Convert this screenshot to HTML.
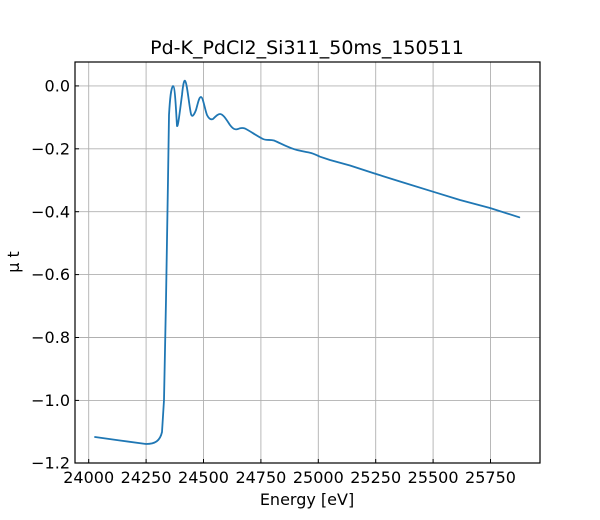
<!DOCTYPE html>
<html><head><style>body{margin:0;background:#fff}svg{display:block}text{font-family:"DejaVu Sans","Liberation Sans",sans-serif;fill:#000}</style></head><body>
<svg width="600" height="520" viewBox="0 0 600 520">
<g stroke="#b0b0b0" stroke-width="0.9">
<line x1="88.7" y1="62" x2="88.7" y2="463"/><line x1="146.1" y1="62" x2="146.1" y2="463"/><line x1="203.5" y1="62" x2="203.5" y2="463"/><line x1="260.9" y1="62" x2="260.9" y2="463"/><line x1="318.3" y1="62" x2="318.3" y2="463"/><line x1="375.7" y1="62" x2="375.7" y2="463"/><line x1="433.1" y1="62" x2="433.1" y2="463"/><line x1="490.5" y1="62" x2="490.5" y2="463"/>
<line x1="75" y1="85.9" x2="540" y2="85.9"/><line x1="75" y1="148.8" x2="540" y2="148.8"/><line x1="75" y1="211.7" x2="540" y2="211.7"/><line x1="75" y1="274.6" x2="540" y2="274.6"/><line x1="75" y1="337.5" x2="540" y2="337.5"/><line x1="75" y1="400.4" x2="540" y2="400.4"/>
</g>
<path fill="none" stroke="#1f77b4" stroke-width="1.8" stroke-linejoin="round" stroke-linecap="round" d="M95,437 L120,440.5 L146,444 C155,444 160,441 162,432 L164,400 L166,300 L168,180 L169,115 C170,98 171,88 173,86 C175,86 176,110 177,126 C178,128 180,110 182,95 C183,85 184,80 185,80.7 C187,82 189,105 191,114 C192,118 194,115 196,110 C198,103 199,97 201,97 C203,97 205,110 207,115 C209,119 211,120 213,119 C216,116 218,114 220,114 C223,114 226,119 230,125 C233,129 235,130 238,129 C240,128 242,127.5 245,128.5 C250,131 257,136 263,139 C266,140.5 270,139.5 274,140.5 C280,143 285,146 291.7,148.3 C297,150.5 304,151.5 310,152.7 C314,153.5 317,155.5 320,156.7 L330,160 L350,165.5 L373,173 L400,181.5 L433,191.7 L460,200 L490,208 L519.3,217.3"/>
<rect x="75" y="62" width="465" height="401" fill="none" stroke="#000" stroke-width="1.2"/>
<g stroke="#000" stroke-width="1">
<line x1="88.7" y1="463" x2="88.7" y2="459"/><line x1="146.1" y1="463" x2="146.1" y2="459"/><line x1="203.5" y1="463" x2="203.5" y2="459"/><line x1="260.9" y1="463" x2="260.9" y2="459"/><line x1="318.3" y1="463" x2="318.3" y2="459"/><line x1="375.7" y1="463" x2="375.7" y2="459"/><line x1="433.1" y1="463" x2="433.1" y2="459"/><line x1="490.5" y1="463" x2="490.5" y2="459"/>
<line x1="75" y1="85.9" x2="79" y2="85.9"/><line x1="75" y1="148.8" x2="79" y2="148.8"/><line x1="75" y1="211.7" x2="79" y2="211.7"/><line x1="75" y1="274.6" x2="79" y2="274.6"/><line x1="75" y1="337.5" x2="79" y2="337.5"/><line x1="75" y1="400.4" x2="79" y2="400.4"/><line x1="75" y1="463" x2="79" y2="463"/>
</g>
<g font-size="16" text-anchor="middle">
<text x="88.7" y="483">24000</text><text x="146.1" y="483">24250</text><text x="203.5" y="483">24500</text><text x="260.9" y="483">24750</text><text x="318.3" y="483">25000</text><text x="375.7" y="483">25250</text><text x="433.1" y="483">25500</text><text x="490.5" y="483">25750</text>
</g>
<g font-size="16" text-anchor="end">
<text x="70" y="91.5">0.0</text><text x="70" y="154.4">−0.2</text><text x="70" y="217.3">−0.4</text><text x="70" y="280.2">−0.6</text><text x="70" y="343.1">−0.8</text><text x="70" y="406">−1.0</text><text x="70" y="468.6">−1.2</text>
</g>
<text x="307" y="505" font-size="16" text-anchor="middle">Energy [eV]</text>
<text transform="translate(19,262) rotate(-90)" font-size="16" text-anchor="middle">μ t</text>
<text x="307" y="54" font-size="19" text-anchor="middle">Pd-K_PdCl2_Si311_50ms_150511</text>
</svg>
</body></html>
